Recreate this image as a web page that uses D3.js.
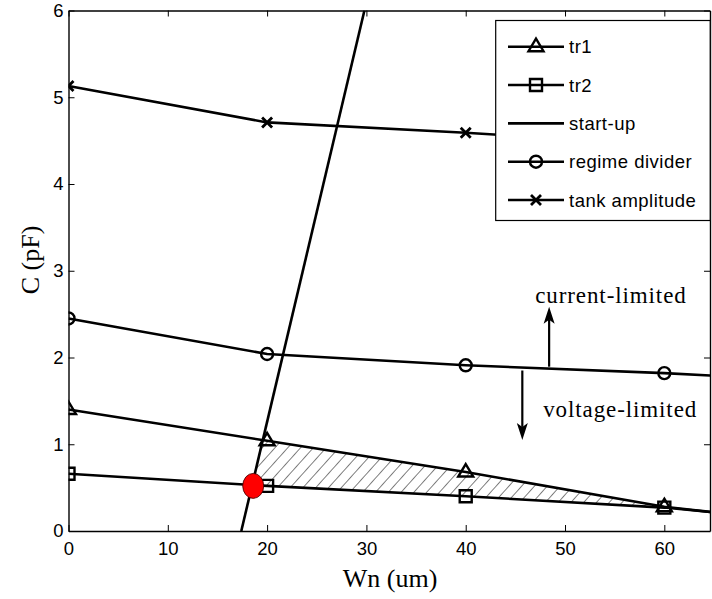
<!DOCTYPE html>
<html>
<head>
<meta charset="utf-8">
<script src="https://cdn.jsdelivr.net/npm/d3@7"></script>
<style>
  html, body { margin: 0; padding: 0; background: #fff; }
  svg { display: block; }
</style>
</head>
<body>
<svg id="chart" width="712" height="599"></svg>
<script>
// Transistor width Wn (um) at which each curve was evaluated
const wn = [0, 20, 40, 60, 70];

// Capacitance C (pF) of each curve
const tr1 = [1.40, 1.04, 0.68, 0.28, 0.15];
const tr2 = [0.66, 0.52, 0.40, 0.27, 0.16];
const regimeDivider = [2.45, 2.04, 1.91, 1.82, 1.76];
const tankAmplitude = [5.13, 4.71, 4.59, 4.45, 4.38];

// Start-up boundary (straight line)
const startupWn = [17.4, 29.8];
const startupC = [0, 6];

// Optimum design point
const optimumWn = 18.6;
const optimumC = 0.52;

// Axis ticks
const xTicks = [0, 10, 20, 30, 40, 50, 60];
const yTicks = [0, 1, 2, 3, 4, 5, 6];

// Legend entries
const legendLabels = ["tr1", "tr2", "start-up", "regime divider", "tank amplitude"];
const legendMarkers = ["triangle", "square", "none", "circle", "x"];

const svg = d3.select("#chart");
const plotLeft = 68.5, plotRight = 710, plotTop = 10.5, plotBottom = 531;

const x = d3.scaleLinear().domain([0, 64.6]).range([plotLeft, plotRight]);
const y = d3.scaleLinear().domain([0, 6]).range([plotBottom, plotTop]);

const sans = '"Liberation Sans", Arial, sans-serif';
const serif = '"Liberation Serif", "Times New Roman", serif';

// Clip to the axes box
const defs = svg.append("defs");
defs.append("clipPath").attr("id", "plotClip")
  .append("rect").attr("x", plotLeft).attr("y", plotTop)
  .attr("width", plotRight - plotLeft).attr("height", plotBottom - plotTop);

// Diagonal hatch
const pat = defs.append("pattern")
  .attr("id", "hatch").attr("patternUnits", "userSpaceOnUse")
  .attr("width", 9.5).attr("height", 9.5)
  .attr("patternTransform", "rotate(42)");
pat.append("line").attr("x1", 0).attr("y1", 0).attr("x2", 0).attr("y2", 9.5)
  .attr("stroke", "#000").attr("stroke-width", 1);

const plot = svg.append("g").attr("clip-path", "url(#plotClip)");

// ---- hatched feasible region between tr1 and tr2, right of start-up ----
function interp(xs, ys, v) {
  for (let i = 0; i < xs.length - 1; i++) {
    if (v >= xs[i] && v <= xs[i + 1]) {
      const t = (v - xs[i]) / (xs[i + 1] - xs[i]);
      return ys[i] + t * (ys[i + 1] - ys[i]);
    }
  }
  return ys[ys.length - 1];
}
function crossing(ys) {
  // Wn where the start-up line meets a curve (bisection)
  let lo = 0, hi = 40;
  const f = w => interp(wn, ys, w) - (w - startupWn[0]) * (startupC[1] - startupC[0]) / (startupWn[1] - startupWn[0]);
  for (let k = 0; k < 60; k++) {
    const mid = (lo + hi) / 2;
    if (f(lo) * f(mid) <= 0) hi = mid; else lo = mid;
  }
  return (lo + hi) / 2;
}
const w1 = crossing(tr1), w2 = crossing(tr2);
const hatchPts = [];
hatchPts.push([w2, interp(wn, tr2, w2)]);
hatchPts.push([w1, interp(wn, tr1, w1)]);
wn.forEach((w, i) => { if (w > w1 && w <= 60) hatchPts.push([w, tr1[i]]); });
for (let i = wn.length - 1; i >= 0; i--) { if (wn[i] > w2 && wn[i] <= 60) hatchPts.push([wn[i], tr2[i]]); }
plot.append("path")
  .attr("d", d3.line().x(d => x(d[0])).y(d => y(d[1]))(hatchPts) + "Z")
  .attr("fill", "url(#hatch)").attr("stroke", "none");

// ---- curves ----
const line = d3.line().x(d => x(d[0])).y(d => y(d[1]));
const series = [
  { vals: tr1, marker: "triangle" },
  { vals: tr2, marker: "square" },
  { vals: regimeDivider, marker: "circle" },
  { vals: tankAmplitude, marker: "x" }
];

function markerPath(type) {
  if (type === "triangle") return "M0,-8L7.5,4.5L-7.5,4.5Z";
  if (type === "square") return "M-6,-6H6V6H-6Z";
  if (type === "circle") return d3.symbol(d3.symbolCircle, Math.PI * 36)();
  if (type === "x") return "M-5,-5L5,5M-5,5L5,-5";
  return "";
}

series.forEach(s => {
  const pts = wn.map((w, i) => [w, s.vals[i]]);
  plot.append("path").attr("d", line(pts))
    .attr("fill", "none").attr("stroke", "#000").attr("stroke-width", 2.6);
  plot.selectAll(null).data(pts).enter().append("path")
    .attr("transform", d => `translate(${x(d[0])},${y(d[1])})`)
    .attr("d", markerPath(s.marker))
    .attr("fill", "none").attr("stroke", "#000")
    .attr("stroke-width", s.marker === "x" ? 2.8 : 2.4);
});

// start-up line
plot.append("path")
  .attr("d", line(startupWn.map((w, i) => [w, startupC[i]])))
  .attr("fill", "none").attr("stroke", "#000").attr("stroke-width", 2.6);

// optimum point
plot.append("ellipse")
  .attr("cx", x(optimumWn)).attr("cy", y(optimumC))
  .attr("rx", 10.5).attr("ry", 12.5)
  .attr("fill", "#ff0000").attr("stroke", "#3a0000").attr("stroke-width", 0.8);

// ---- axes (ticks pointing inward on all four sides) ----
const tickLen = 6;
const gx = svg.append("g").attr("transform", `translate(0,${plotBottom})`)
  .call(d3.axisBottom(x).tickValues(xTicks).tickFormat(d3.format("d"))
    .tickSizeInner(-tickLen).tickSizeOuter(0).tickPadding(12));
const gy = svg.append("g").attr("transform", `translate(${plotLeft},0)`)
  .call(d3.axisLeft(y).tickValues(yTicks).tickFormat(d3.format("d"))
    .tickSizeInner(-tickLen).tickSizeOuter(0).tickPadding(7));
const gt = svg.append("g").attr("transform", `translate(0,${plotTop})`)
  .call(d3.axisTop(x).tickValues(xTicks).tickSizeInner(-tickLen).tickSizeOuter(0).tickFormat(""));
const gr = svg.append("g").attr("transform", `translate(${plotRight},0)`)
  .call(d3.axisRight(y).tickValues(yTicks).tickSizeInner(-tickLen).tickSizeOuter(0).tickFormat(""));
[gx, gy, gt, gr].forEach(g => {
  g.select(".domain").attr("stroke", "#000").attr("stroke-width", 1.4);
  g.selectAll(".tick line").attr("stroke", "#000").attr("stroke-width", 1);
  g.selectAll(".tick text")
    .attr("font-family", sans).attr("font-size", 18.5).attr("fill", "#000");
});
gx.selectAll(".tick text").attr("dy", "0.71em").attr("y", 11);
gy.selectAll(".tick text").attr("x", -5);

// axis titles
svg.append("text").attr("x", 390).attr("y", 587)
  .attr("text-anchor", "middle").attr("font-family", serif).attr("font-size", 26)
  .text("Wn (um)");
svg.append("text").attr("transform", "translate(39,260) rotate(-90)")
  .attr("text-anchor", "middle").attr("font-family", serif).attr("font-size", 26)
  .text("C (pF)");

// ---- regime annotations ----
function arrow(xw, c0, c1) {
  const px = x(xw), y0 = y(c0), y1 = y(c1);
  const dir = y1 < y0 ? 1 : -1; // 1 => pointing up
  const len = 17, half = 5.5, notch = 4;
  svg.append("line").attr("x1", px).attr("y1", y0).attr("x2", px).attr("y2", y1 + dir * (len - notch))
    .attr("stroke", "#000").attr("stroke-width", 2.2);
  svg.append("path")
    .attr("d", `M${px},${y1}L${px + half},${y1 + dir * len}L${px},${y1 + dir * (len - notch)}L${px - half},${y1 + dir * len}Z`)
    .attr("fill", "#000");
}
arrow(48.4, 1.894, 2.585);
arrow(45.7, 1.85, 1.05);

svg.append("text").attr("x", x(47.0)).attr("y", 303)
  .attr("font-family", serif).attr("font-size", 23).attr("letter-spacing", 0.9)
  .text("current-limited");
svg.append("text").attr("x", x(47.8)).attr("y", 417)
  .attr("font-family", serif).attr("font-size", 23).attr("letter-spacing", 0.9)
  .text("voltage-limited");

// ---- legend ----
const lg = svg.append("g");
lg.append("rect").attr("x", 495.7).attr("y", 20.5).attr("width", 214.5).attr("height", 200)
  .attr("fill", "#fff").attr("stroke", "#000").attr("stroke-width", 1.2);
const rowY = d3.scalePoint().domain(legendLabels).range([46.7, 200]);
legendLabels.forEach((lab, i) => {
  const yy = rowY(lab);
  lg.append("line").attr("x1", 508).attr("x2", 564).attr("y1", yy).attr("y2", yy)
    .attr("stroke", "#000").attr("stroke-width", 2.6);
  if (legendMarkers[i] !== "none") {
    lg.append("path").attr("transform", `translate(536,${yy})`)
      .attr("d", markerPath(legendMarkers[i]))
      .attr("fill", "none").attr("stroke", "#000")
      .attr("stroke-width", legendMarkers[i] === "x" ? 2.8 : 2.4);
  }
  lg.append("text").attr("x", 569).attr("y", yy + 6.5)
    .attr("font-family", sans).attr("font-size", 18.5).attr("letter-spacing", 0.5)
    .text(lab);
});
</script>
</body>
</html>
